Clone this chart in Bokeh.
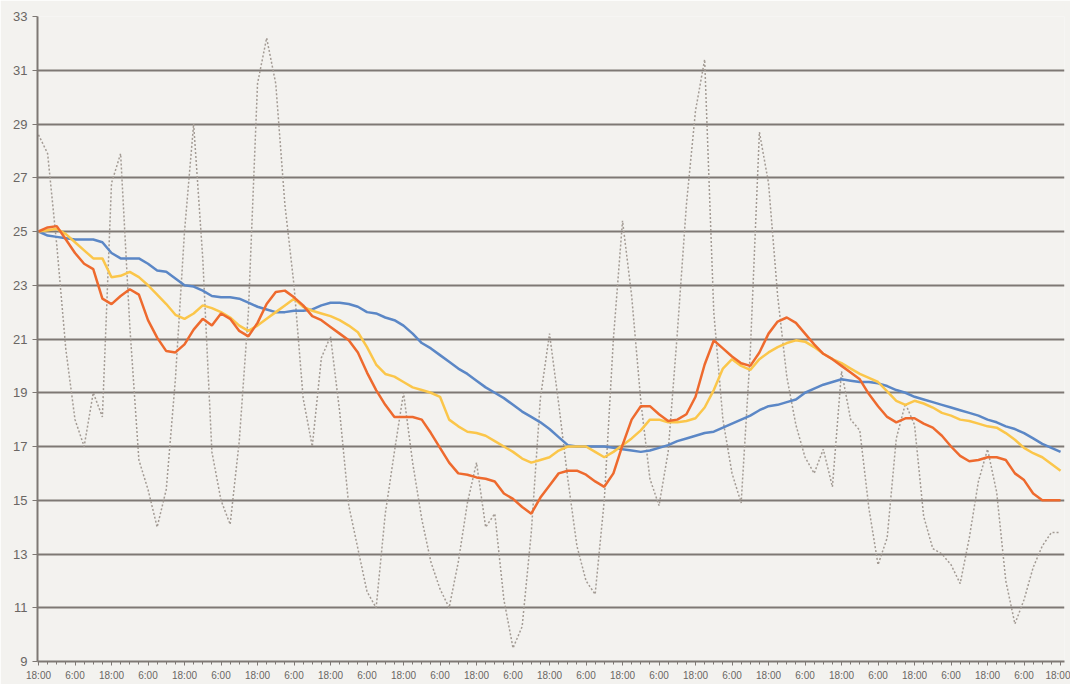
from bokeh.plotting import figure
from bokeh.models import FixedTicker, Range1d
from bokeh.embed import file_html
from bokeh.resources import INLINE

# time axis: hours since the first 18:00, one reading every 3 hours (14 days)
hours = [3 * i for i in range(113)]

# measured temperature (dotted grey)
temp = [28.6, 27.9, 24.5, 20.6, 18.0, 17.0, 19.0, 18.1, 26.8, 27.9,
        21.5, 16.5, 15.4, 14.0, 15.4, 19.5, 25.0, 29.0, 24.0, 16.8,
        15.0, 14.1, 17.2, 22.0, 30.5, 32.2, 30.5, 26.0, 23.0, 18.8,
        17.0, 20.3, 21.1, 18.3, 14.8, 13.2, 11.6, 11.0, 14.5, 16.8,
        19.0, 16.4, 14.3, 12.7, 11.7, 11.0, 12.7, 14.9, 16.4, 14.0,
        14.5, 11.3, 9.5, 10.3, 13.8, 18.8, 21.2, 18.6, 15.8, 13.3,
        12.0, 11.5, 15.0, 21.0, 25.4, 22.6, 18.7, 15.8, 14.8, 16.8,
        21.2, 26.0, 29.5, 31.4, 22.0, 18.0, 16.0, 14.9, 20.5, 28.7,
        26.8, 22.6, 19.6, 17.8, 16.6, 16.0, 16.9, 15.5, 19.8, 18.0,
        17.6, 14.7, 12.6, 13.6, 17.3, 18.6, 17.8, 14.4, 13.2, 13.0,
        12.6, 11.9, 13.6, 15.7, 16.9, 15.3, 12.0, 10.4, 11.3, 12.5,
        13.3, 13.8, 13.8]

# long running mean (blue)
avg_long = [25.0, 24.85, 24.8, 24.75, 24.7, 24.7, 24.7, 24.6, 24.2, 24.0,
            24.0, 24.0, 23.8, 23.55, 23.5, 23.25, 23.0, 22.95, 22.8, 22.6,
            22.55, 22.55, 22.5, 22.35, 22.2, 22.1, 22.0, 22.0, 22.05, 22.05,
            22.1, 22.25, 22.35, 22.35, 22.3, 22.2, 22.0, 21.95, 21.8, 21.7,
            21.5, 21.2, 20.85, 20.65, 20.4, 20.15, 19.9, 19.7, 19.45, 19.2,
            19.0, 18.8, 18.55, 18.3, 18.1, 17.9, 17.65, 17.35, 17.05, 17.0,
            17.0, 17.0, 17.0, 16.95, 16.9, 16.85, 16.8, 16.85, 16.95, 17.05,
            17.2, 17.3, 17.4, 17.5, 17.55, 17.7, 17.85, 18.0, 18.15, 18.35,
            18.5, 18.55, 18.65, 18.75, 19.0, 19.15, 19.3, 19.4, 19.5, 19.45,
            19.4, 19.4, 19.35, 19.25, 19.1, 19.0, 18.85, 18.75, 18.65, 18.55,
            18.45, 18.35, 18.25, 18.15, 18.0, 17.9, 17.75, 17.65, 17.5, 17.3,
            17.1, 16.95, 16.8]

# medium running mean (yellow)
avg_mid = [25.0, 25.05, 25.1, 24.9, 24.6, 24.3, 24.0, 24.0, 23.3, 23.35,
           23.5, 23.3, 23.0, 22.65, 22.3, 21.9, 21.75, 21.95, 22.25, 22.15,
           22.0, 21.8, 21.5, 21.3, 21.5, 21.75, 22.0, 22.25, 22.5, 22.2,
           22.05, 21.95, 21.85, 21.7, 21.5, 21.25, 20.7, 20.05, 19.7, 19.6,
           19.4, 19.2, 19.1, 19.0, 18.85, 18.0, 17.75, 17.55, 17.5, 17.4,
           17.2, 17.0, 16.8, 16.55, 16.4, 16.5, 16.6, 16.85, 17.0, 17.0,
           17.0, 16.8, 16.6, 16.8, 17.05, 17.3, 17.6, 18.0, 18.0, 17.9,
           17.9, 17.95, 18.05, 18.45, 19.1, 19.9, 20.25, 20.0, 19.85, 20.25,
           20.5, 20.7, 20.85, 20.95, 20.9, 20.7, 20.45, 20.25, 20.1, 19.9,
           19.7, 19.55, 19.4, 19.05, 18.7, 18.55, 18.7, 18.6, 18.45, 18.25,
           18.15, 18.0, 17.95, 17.85, 17.75, 17.7, 17.5, 17.25, 16.95, 16.75,
           16.6, 16.35, 16.1]

# short running mean (orange)
avg_short = [25.0, 25.15, 25.2, 24.7, 24.2, 23.8, 23.6, 22.5, 22.3, 22.6,
             22.85, 22.65, 21.7, 21.05, 20.55, 20.5, 20.8, 21.35, 21.75, 21.5,
             21.95, 21.75, 21.3, 21.1, 21.6, 22.3, 22.75, 22.8, 22.55, 22.25,
             21.85, 21.7, 21.45, 21.2, 20.95, 20.5, 19.75, 19.1, 18.55, 18.1,
             18.1, 18.1, 18.0, 17.5, 16.95, 16.4, 16.0, 15.95, 15.85, 15.8,
             15.7, 15.25, 15.05, 14.75, 14.5, 15.1, 15.55, 16.0, 16.1, 16.1,
             15.95, 15.7, 15.5, 16.0, 17.05, 18.0, 18.5, 18.5, 18.2, 17.95,
             18.0, 18.2, 18.85, 20.05, 20.95, 20.65, 20.35, 20.1, 20.0, 20.5,
             21.2, 21.65, 21.8, 21.6, 21.2, 20.8, 20.45, 20.25, 20.0, 19.75,
             19.5, 18.95, 18.5, 18.1, 17.9, 18.05, 18.05, 17.85, 17.7, 17.4,
             17.0, 16.65, 16.45, 16.5, 16.6, 16.6, 16.5, 16.0, 15.75, 15.25,
             15.0, 15.0, 15.0]

tick_hours = [0, 12, 24, 36, 48, 60, 72, 84, 96, 108, 120, 132, 144, 156, 168,
              180, 192, 204, 216, 228, 240, 252, 264, 276, 288, 300, 312, 324, 336]
tick_labels = ["18:00", "6:00", "18:00", "6:00", "18:00", "6:00", "18:00", "6:00",
               "18:00", "6:00", "18:00", "6:00", "18:00", "6:00", "18:00", "6:00",
               "18:00", "6:00", "18:00", "6:00", "18:00", "6:00", "18:00", "6:00",
               "18:00", "6:00", "18:00", "6:00", "18:00"]
y_ticks = [9, 11, 13, 15, 17, 19, 21, 23, 25, 27, 29, 31, 33]

BG = "#f3f2ef"
GRID = "#7e7874"

p = figure(width=1070, height=684, output_backend="svg", toolbar_location=None,
           x_range=Range1d(-0.33, 337.3), y_range=Range1d(9, 33),
           min_border_left=37, min_border_right=6, min_border_top=16,
           min_border_bottom=23)
p.background_fill_color = BG
p.border_fill_color = BG
p.outline_line_color = None

p.xgrid.grid_line_color = None
p.ygrid.ticker = FixedTicker(ticks=y_ticks)
p.ygrid.grid_line_color = GRID
p.ygrid.grid_line_width = 2

p.yaxis.ticker = FixedTicker(ticks=y_ticks)
p.yaxis.axis_line_color = GRID
p.yaxis.axis_line_width = 2
p.yaxis.major_tick_line_color = GRID
p.yaxis.major_tick_in = 0
p.yaxis.major_tick_out = 5
p.yaxis.minor_tick_line_color = None
p.yaxis.major_label_text_font = "Liberation Sans"
p.yaxis.major_label_text_font_size = "13px"
p.yaxis.major_label_text_color = "#6a6663"
p.yaxis.major_label_standoff = 5

p.xaxis.ticker = FixedTicker(ticks=tick_hours, minor_ticks=hours)
p.xaxis.major_label_overrides = {h: lab for h, lab in zip(tick_hours, tick_labels)}
p.xaxis.axis_line_color = GRID
p.xaxis.axis_line_width = 2
p.xaxis.major_tick_line_color = GRID
p.xaxis.minor_tick_line_color = GRID
p.xaxis.major_tick_in = 0
p.xaxis.major_tick_out = 4
p.xaxis.minor_tick_in = 0
p.xaxis.minor_tick_out = 3
p.xaxis.major_label_text_font = "Liberation Sans"
p.xaxis.major_label_text_font_size = "10px"
p.xaxis.major_label_text_color = "#6a6663"
p.xaxis.major_label_standoff = 4

p.line(hours, temp, line_color="#a39b94", line_width=1.5, line_dash="2 2")
p.line(hours, avg_long, line_color="#5b87c6", line_width=2.5)
p.line(hours, avg_mid, line_color="#fbc64a", line_width=2.5)
p.line(hours, avg_short, line_color="#ee6a2e", line_width=2.5)

open("out.html", "w").write(file_html(p, INLINE))
